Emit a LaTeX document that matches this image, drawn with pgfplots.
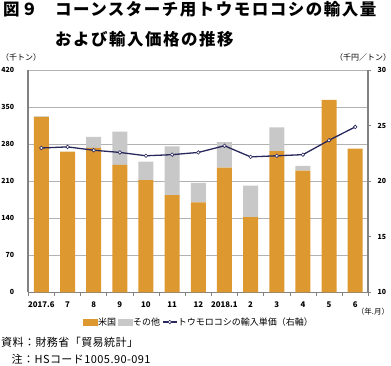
\documentclass[border=0pt]{standalone}
\usepackage{fontspec}
\setmainfont{Noto Sans CJK JP}
\usepackage{pgfplots}
\pgfplotsset{compat=1.18}
\definecolor{usor}{RGB}{222,152,48}
\definecolor{oth}{RGB}{200,200,200}
\definecolor{navy}{RGB}{40,40,92}
\definecolor{gridc}{RGB}{178,178,178}
\definecolor{axc}{RGB}{130,130,130}
\begin{document}
\begin{tikzpicture}[x=1bp,y=1bp]
\path[use as bounding box] (0,0) rectangle (391,366);
\begin{axis}[
  at={(28.3bp,73.7bp)}, anchor=south west, scale only axis,
  width=340bp, height=222bp,
  xmin=-0.5, xmax=12.5, ymin=0, ymax=420,
  ybar stacked, bar width=15bp,
  ytick={0,70,...,420},
  xtick={0,...,12},
  xticklabels={2017.6,7,8,9,10,11,12,2018.1,2,3,4,5,6},
  minor xtick={-0.5,0.5,...,12.5},
  axis x line*=bottom, axis y line*=left,
  x axis line style={-, draw=axc, line width=0.8bp},
  y axis line style={-, draw=axc, line width=1.8bp},
  major tick length=0pt, minor tick length=3.5bp, tick align=outside,
  major x tick style={draw=none}, major y tick style={draw=none},
  minor x tick style={draw=axc, line width=0.6bp},
  ymajorgrids, grid style={draw=gridc, line width=0.8bp},
  /pgf/number format/assume math mode=true,
  yticklabel style={font=\bfseries\fontsize{7bp}{8bp}\selectfont, anchor=east, inner sep=0pt, xshift=-14bp},
  xticklabel style={font=\bfseries\fontsize{7.8bp}{9bp}\selectfont, anchor=north, inner sep=0pt, yshift=-9bp},
]
\addplot[fill=usor, draw=none] coordinates {
(0,332) (1,266) (2,273) (3,241) (4,212) (5,184) (6,170) (7,236) (8,142) (9,267) (10,230) (11,364) (12,272)};
\addplot[fill=oth, draw=none] coordinates {
(0,1) (1,0) (2,21) (3,63) (4,35) (5,92) (6,37) (7,48) (8,60) (9,45) (10,9) (11,0) (12,0)};
\end{axis}
\begin{axis}[
  at={(28.3bp,73.7bp)}, anchor=south west, scale only axis,
  width=340bp, height=222bp,
  xmin=-0.5, xmax=12.5, ymin=10, ymax=30,
  ytick={10,15,...,30},
  axis y line*=right, axis x line=none,
  y axis line style={-, draw=axc, line width=1.8bp},
  major tick length=3bp, tick align=outside,
  major y tick style={draw=axc, line width=0.6bp},
  /pgf/number format/assume math mode=true,
  yticklabel style={font=\bfseries\fontsize{7bp}{8bp}\selectfont, anchor=west, inner sep=0pt, xshift=6bp},
  legend style={at={(0.5,-0.134)}, anchor=center, legend columns=3, draw=none, fill=none,
    font=\fontsize{9bp}{10bp}\selectfont, inner sep=0pt,
    nodes={inner sep=0.6bp},
    /tikz/every even column/.append style={column sep=1.5bp}},
]
\addlegendimage{legend image code/.code={\fill[usor] (0bp,-3bp) rectangle (14bp,3bp);}}
\addlegendentry{米国}
\addlegendimage{legend image code/.code={\fill[oth] (0bp,-3bp) rectangle (14bp,3bp);}}
\addlegendentry{その他}
\addplot[navy, line width=1.3bp, mark=*, mark size=1.8bp,
  mark options={fill=white, draw=navy, line width=0.6bp},
  legend image code/.code={\draw[navy, line width=1.2bp] (0bp,0bp) -- (14bp,0bp);
    \draw[navy, fill=white, line width=0.6bp] (7bp,0bp) circle (1.8bp);}]
coordinates {
(0,23.0) (1,23.1) (2,22.8) (3,22.6) (4,22.3) (5,22.4) (6,22.6) (7,23.2) (8,22.2) (9,22.3) (10,22.4) (11,23.7) (12,24.9)};
\addlegendentry{トウモロコシの輸入単価（右軸）}
\end{axis}
\node[anchor=base west, inner sep=0pt, font=\bfseries\fontsize{16.5bp}{18bp}\selectfont\addfontfeature{LetterSpace=9}] at (3,350.3) {図９};
\node[anchor=base west, inner sep=0pt, font=\bfseries\fontsize{16.5bp}{18bp}\selectfont\addfontfeature{LetterSpace=9}] at (55,350.3) {コーンスターチ用トウモロコシの輸入量};
\node[anchor=base west, inner sep=0pt, font=\bfseries\fontsize{16.5bp}{18bp}\selectfont\addfontfeature{LetterSpace=9}] at (55,320.4) {および輸入価格の推移};
\node[anchor=center, inner sep=0pt, font=\fontsize{8bp}{9bp}\selectfont] at (21,308.5) {（千トン）};
\node[anchor=center, inner sep=0pt, font=\fontsize{8bp}{9bp}\selectfont] at (363,308.5) {（千円／トン）};
\node[anchor=center, inner sep=0pt, font=\fontsize{7.5bp}{8bp}\selectfont] at (373,54.5) {（年.月）};
\node[anchor=west, inner sep=0pt, font=\fontsize{11bp}{12bp}\selectfont\addfontfeature{LetterSpace=4}] at (1,23.5) {資料：財務省「貿易統計」};
\node[anchor=west, inner sep=0pt, font=\fontsize{11bp}{12bp}\selectfont\addfontfeature{LetterSpace=4}] at (11.5,6.3) {注：HSコード1005.90-091};
\end{tikzpicture}
\end{document}
